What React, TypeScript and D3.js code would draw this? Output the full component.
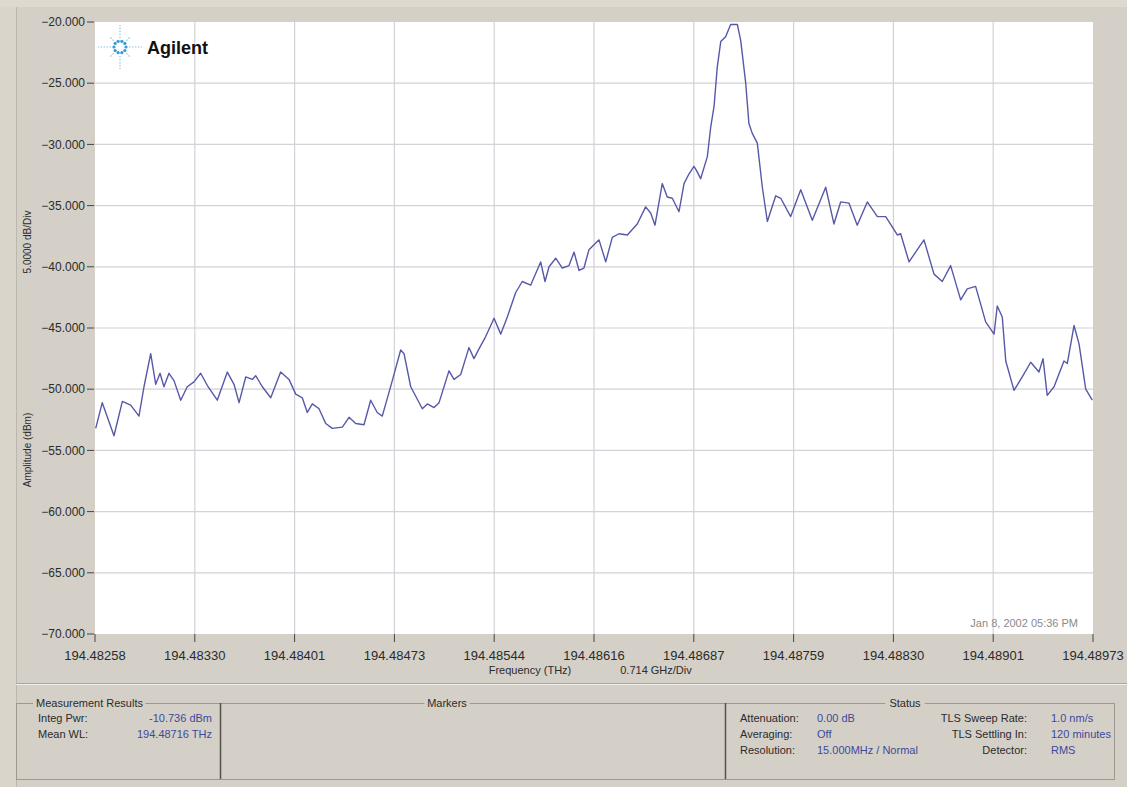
import React, { useEffect } from 'react';
import * as d3 from 'd3';

// sweep offset from 194.48258 THz, in GHz
const FREQ_GHZ = [
  0.005, 0.052, 0.136, 0.196, 0.256, 0.315, 0.351, 0.399, 0.435, 0.466,
  0.494, 0.530, 0.566, 0.614, 0.661, 0.709, 0.757, 0.805, 0.876, 0.948,
  0.996, 1.032, 1.080, 1.127, 1.151, 1.199, 1.259, 1.330, 1.390, 1.438,
  1.485, 1.521, 1.557, 1.605, 1.653, 1.700, 1.772, 1.820, 1.868, 1.927,
  1.975, 2.022, 2.058, 2.130, 2.190, 2.214, 2.262, 2.345, 2.381, 2.429,
  2.465, 2.536, 2.572, 2.620, 2.679, 2.715, 2.751, 2.799, 2.859, 2.907,
  2.954, 3.014, 3.061, 3.121, 3.193, 3.224, 3.253, 3.301, 3.348, 3.396,
  3.432, 3.468, 3.503, 3.539, 3.611, 3.659, 3.706, 3.754, 3.814, 3.885,
  3.945, 3.981, 4.012, 4.064, 4.100, 4.136, 4.184, 4.220, 4.256, 4.291,
  4.308, 4.339, 4.387, 4.411, 4.435, 4.458, 4.483, 4.518, 4.554, 4.602,
  4.626, 4.662, 4.685, 4.709, 4.745, 4.781, 4.817, 4.877, 4.913, 4.984,
  5.056, 5.139, 5.235, 5.294, 5.342, 5.402, 5.461, 5.533, 5.605, 5.665,
  5.748, 5.772, 5.832, 5.939, 6.011, 6.070, 6.130, 6.202, 6.249, 6.309,
  6.381, 6.441, 6.464, 6.500, 6.525, 6.584, 6.643, 6.704, 6.763, 6.792,
  6.822, 6.871, 6.942, 6.966, 7.014, 7.050, 7.098, 7.145,
];

const AMP_DBM = [
  -53.2, -51.1, -53.8, -51.0, -51.3, -52.2, -49.8, -47.1, -49.6, -48.7,
  -49.8, -48.7, -49.3, -50.9, -49.8, -49.4, -48.7, -49.7, -50.9, -48.6,
  -49.6, -51.1, -49.0, -49.2, -48.9, -49.8, -50.7, -48.6, -49.2, -50.4,
  -50.7, -51.9, -51.2, -51.6, -52.8, -53.2, -53.1, -52.3, -52.8, -52.9,
  -50.9, -51.9, -52.2, -49.3, -46.8, -47.1, -49.8, -51.6, -51.2, -51.5,
  -51.1, -48.5, -49.2, -48.8, -46.6, -47.5, -46.7, -45.7, -44.2, -45.5,
  -44.1, -42.1, -41.2, -41.5, -39.6, -41.2, -40.0, -39.3, -40.1, -39.9,
  -38.8, -40.3, -40.1, -38.6, -37.8, -39.6, -37.6, -37.3, -37.4, -36.5,
  -35.1, -35.6, -36.6, -33.2, -34.3, -34.4, -35.5, -33.2, -32.4, -31.8,
  -32.1, -32.8, -31.0, -28.6, -26.9, -23.7, -21.6, -21.2, -20.2, -20.2,
  -21.5, -25.0, -28.3, -29.1, -29.9, -33.5, -36.3, -34.2, -34.4, -35.9,
  -33.7, -36.2, -33.5, -36.5, -34.7, -34.8, -36.6, -34.7, -35.9, -35.9,
  -37.4, -37.3, -39.6, -37.8, -40.6, -41.2, -39.9, -42.7, -41.8, -41.6,
  -44.5, -45.5, -43.2, -44.1, -47.7, -50.1, -49.0, -47.8, -48.6, -47.5,
  -50.5, -49.8, -47.7, -47.9, -44.8, -46.3, -50.0, -50.9,
];

const X_TICK_LABELS = [
  '194.48258', '194.48330', '194.48401', '194.48473', '194.48544', '194.48616',
  '194.48687', '194.48759', '194.48830', '194.48901', '194.48973',
];
const GHZ_PER_DIV = 0.715;
const Y_TICKS = [-20, -25, -30, -35, -40, -45, -50, -55, -60, -65, -70];

const MEASUREMENT_ROWS = [
  { label: 'Integ Pwr:', value: '-10.736 dBm' },
  { label: 'Mean WL:', value: '194.48716 THz' },
];
const STATUS_LEFT = [
  { label: 'Attenuation:', value: '0.00 dB' },
  { label: 'Averaging:', value: 'Off' },
  { label: 'Resolution:', value: '15.000MHz / Normal' },
];
const STATUS_RIGHT = [
  { label: 'TLS Sweep Rate:', value: '1.0 nm/s' },
  { label: 'TLS Settling In:', value: '120 minutes' },
  { label: 'Detector:', value: 'RMS' },
];

const W = 1127;
const H = 787;
const PLOT = { left: 95, right: 1093, top: 22, bottom: 634 };
const FONT = '"Liberation Sans", Arial, sans-serif';
const BG = '#D4D0C8';
const TEXT = '#2b2b2b';
const BLUE = '#3b4a9c';

const AgilentLogo: React.FC<{ x: number; y: number }> = ({ x, y }) => {
  const rays = d3.range(8).map(i => (i * Math.PI) / 4);
  return (
    <g transform={`translate(${x},${y})`}>
      {rays.map((a, i) => {
        const long = i % 2 === 0;
        const r1 = 9;
        const r2 = long ? 22 : 15;
        return (
          <line key={i}
            x1={r1 * Math.cos(a)} y1={r1 * Math.sin(a)}
            x2={r2 * Math.cos(a)} y2={r2 * Math.sin(a)}
            stroke="#7ec4ea" strokeWidth={1.1} strokeDasharray="1.5,1.5" />
        );
      })}
      {d3.range(10).map(i => {
        const a = (i * 2 * Math.PI) / 10;
        return <circle key={i} cx={6 * Math.cos(a)} cy={6 * Math.sin(a)} r={1.6} fill="#3a9ad6" />;
      })}
      <text x={27} y={7} fontFamily={FONT} fontWeight={700} fontSize={18} fill="#111">Agilent</text>
    </g>
  );
};

export default function App() {
  useEffect(() => {
    document.body.style.margin = '0';
  }, []);

  const x = d3.scaleLinear().domain([0, GHZ_PER_DIV * 10]).range([PLOT.left, PLOT.right]);
  const y = d3.scaleLinear().domain([-70, -20]).range([PLOT.bottom, PLOT.top]);
  const xTicks = X_TICK_LABELS.map((label, i) => ({ label, v: i * GHZ_PER_DIV }));

  const line = d3.line<number>()
    .x((_, i) => x(FREQ_GHZ[i]))
    .y(d => y(d));

  const fmt = d3.format('.3f');

  const boxTop = 703;
  const boxBottom = 779;
  const rowY = [722, 738, 754];

  return (
    <svg width={W} height={H} style={{ display: 'block' }} fontFamily={FONT}>
      <rect x={0} y={0} width={W} height={H} fill={BG} />
      <rect x={0} y={0} width={16} height={H} fill="#d9d5cb" />
      <line x1={16.5} x2={16.5} y1={0} y2={H} stroke="#bcb8ad" />
      <rect x={0} y={0} width={W} height={7} fill="#ddd9cf" />

      {/* plot area */}
      <rect x={PLOT.left} y={PLOT.top} width={PLOT.right - PLOT.left} height={PLOT.bottom - PLOT.top} fill="#fff" />
      {xTicks.map((t, i) => (
        <g key={i}>
          {i > 0 && i < 10 && (
            <line x1={x(t.v)} x2={x(t.v)} y1={PLOT.top} y2={PLOT.bottom} stroke="#d2d2d8" strokeWidth={1.2} />
          )}
          <line x1={x(t.v)} x2={x(t.v)} y1={PLOT.bottom} y2={PLOT.bottom + 8} stroke="#444" />
          <text x={x(t.v)} y={PLOT.bottom + 26} textAnchor="middle" fontSize={13} fill={TEXT}>{t.label}</text>
        </g>
      ))}
      {Y_TICKS.map(v => (
        <g key={v}>
          {v !== -20 && v !== -70 && (
            <line x1={PLOT.left} x2={PLOT.right} y1={y(v)} y2={y(v)} stroke="#d2d2d8" strokeWidth={1.2} />
          )}
          <line x1={PLOT.left - 8} x2={PLOT.left - 1} y1={y(v)} y2={y(v)} stroke="#444" />
          <text x={PLOT.left - 10} y={y(v)} dy="0.35em" textAnchor="end" fontSize={12} fill={TEXT}>{fmt(v)}</text>
        </g>
      ))}

      <path d={line(AMP_DBM) || ''} fill="none" stroke="#5759a8" strokeWidth={1.4} strokeLinejoin="round" />

      <AgilentLogo x={120} y={47} />
      <text x={1078} y={627} textAnchor="end" fontSize={11} fill="#8a8a8a">Jan 8, 2002 05:36 PM</text>

      {/* axis titles */}
      <text transform="translate(31,450) rotate(-90)" textAnchor="middle" fontSize={10} fill={TEXT}>Amplitude (dBm)</text>
      <text transform="translate(31,242) rotate(-90)" textAnchor="middle" fontSize={10} fill={TEXT}>5.0000 dB/Div</text>
      <text x={530} y={674} textAnchor="middle" fontSize={11} fill={TEXT}>Frequency (THz)</text>
      <text x={656} y={674} textAnchor="middle" fontSize={11} fill={TEXT}>0.714 GHz/Div</text>

      {/* status panel */}
      <line x1={16} x2={W} y1={683.5} y2={683.5} stroke="#a9a59a" />
      <line x1={16} x2={W} y1={684.5} y2={684.5} stroke="#f2f0ea" />
      <rect x={16.5} y={boxTop + 0.5} width={1098} height={boxBottom - boxTop} fill="none" stroke="#9d998e" />
      <line x1={220.5} x2={220.5} y1={boxTop} y2={boxBottom} stroke="#55524a" strokeWidth={1.5} />
      <line x1={725.5} x2={725.5} y1={boxTop} y2={boxBottom} stroke="#55524a" strokeWidth={1.5} />
      {[
        { t: 'Measurement Results', x: 36, anchor: 'start' },
        { t: 'Markers', x: 447, anchor: 'middle' },
        { t: 'Status', x: 905, anchor: 'middle' },
      ].map(g => {
        const wEst = g.t.length * 5.6 + 6;
        const rx = g.anchor === 'start' ? g.x - 3 : g.x - wEst / 2;
        return (
          <g key={g.t}>
            <rect x={rx} y={boxTop - 6} width={wEst} height={12} fill={BG} />
            <text x={g.x} y={boxTop + 4} textAnchor={g.anchor as any} fontSize={11} fill={TEXT}>{g.t}</text>
          </g>
        );
      })}
      {MEASUREMENT_ROWS.map((r, i) => (
        <g key={r.label} fontSize={11}>
          <text x={38} y={rowY[i]} fill={TEXT}>{r.label}</text>
          <text x={212} y={rowY[i]} textAnchor="end" fill={BLUE}>{r.value}</text>
        </g>
      ))}
      {STATUS_LEFT.map((r, i) => (
        <g key={r.label} fontSize={11}>
          <text x={740} y={rowY[i]} fill={TEXT}>{r.label}</text>
          <text x={817} y={rowY[i]} fill={BLUE}>{r.value}</text>
        </g>
      ))}
      {STATUS_RIGHT.map((r, i) => (
        <g key={r.label} fontSize={11}>
          <text x={1027} y={rowY[i]} textAnchor="end" fill={TEXT}>{r.label}</text>
          <text x={1051} y={rowY[i]} fill={BLUE}>{r.value}</text>
        </g>
      ))}
    </svg>
  );
}
